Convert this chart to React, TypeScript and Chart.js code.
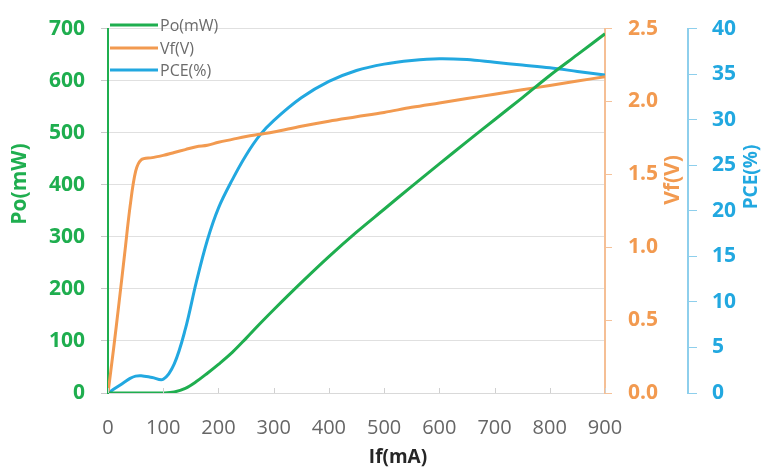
import React, { useEffect, useRef } from "react";
import { Chart, registerables } from "chart.js";

Chart.register(...registerables);

// ---- data ----
const current = [0, 10, 20, 30, 40, 50, 60, 80, 100, 120, 140, 160, 180, 200, 225, 250, 275, 300, 350, 400, 450, 500, 550, 600, 650, 700, 750, 800, 850, 900];
const poMW = [0, 0, 0, 0, 0, 0, 0, 0, 0, 2, 9, 22, 38, 55, 78, 105, 133, 160, 212, 262, 309, 353, 397, 440, 483, 525, 567, 610, 650, 690];
const vfV = [0, 0.3, 0.62, 0.95, 1.28, 1.52, 1.6, 1.615, 1.63, 1.65, 1.67, 1.69, 1.7, 1.72, 1.74, 1.76, 1.775, 1.79, 1.83, 1.865, 1.895, 1.925, 1.96, 1.99, 2.02, 2.05, 2.08, 2.11, 2.14, 2.17];
const pcePct = [0, 0.4, 0.8, 1.2, 1.6, 1.85, 1.9, 1.7, 1.5, 3.2, 7.0, 12.2, 16.8, 20.3, 23.4, 26.1, 28.3, 29.9, 32.4, 34.2, 35.4, 36.1, 36.5, 36.7, 36.6, 36.3, 36.0, 35.7, 35.3, 34.9];

const seriesNames = ["Po(mW)", "Vf(V)", "PCE(%)"];
const xTitle = "If(mA)";
const xTickValues = [0, 100, 200, 300, 400, 500, 600, 700, 800, 900];

const GREEN = "#1fae4f";
const ORANGE = "#f29a50";
const BLUE = "#22a8e0";
const FONT = "'Open Sans', 'Noto Sans', sans-serif";

const pts = (ys: number[]) => current.map((x, i) => ({ x, y: ys[i] }));

const decorPlugin = {
  id: "decor",
  afterDraw(chart: any) {
    const ctx = chart.ctx as CanvasRenderingContext2D;
    const xs = chart.scales.x;
    const area = chart.chartArea;
    ctx.save();
    // inner ticks on x axis
    ctx.strokeStyle = "#d0d0d0";
    ctx.lineWidth = 1;
    xTickValues.forEach((v) => {
      const px = Math.round(xs.getPixelForValue(v)) + 0.5;
      ctx.beginPath();
      ctx.moveTo(px, area.bottom);
      ctx.lineTo(px, area.bottom - 5);
      ctx.stroke();
    });
    // legend
    const colors = [GREEN, ORANGE, BLUE];
    const legendY = [25, 48, 70];
    ctx.font = `16px ${FONT}`;
    ctx.textBaseline = "middle";
    ctx.textAlign = "left";
    seriesNames.forEach((name, i) => {
      ctx.strokeStyle = colors[i];
      ctx.lineWidth = 3;
      ctx.beginPath();
      ctx.moveTo(area.left + 2, legendY[i]);
      ctx.lineTo(area.left + 50, legendY[i]);
      ctx.stroke();
      ctx.fillStyle = "#6b6b6b";
      ctx.fillText(name, area.left + 52, legendY[i] + 1);
    });
    // axis titles
    const rot = (text: string, x: number, y: number, color: string, size: number) => {
      ctx.save();
      ctx.translate(x, y);
      ctx.rotate(-Math.PI / 2);
      ctx.font = `bold ${size}px ${FONT}`;
      ctx.fillStyle = color;
      ctx.textAlign = "center";
      ctx.textBaseline = "middle";
      ctx.fillText(text, 0, 0);
      ctx.restore();
    };
    rot(seriesNames[0], 20, 184, GREEN, 21);
    rot(seriesNames[1], 673, 180, ORANGE, 21);
    rot(seriesNames[2], 752, 177, BLUE, 19);
    ctx.font = `bold 19px ${FONT}`;
    ctx.fillStyle = "#262626";
    ctx.textAlign = "center";
    ctx.textBaseline = "middle";
    ctx.fillText(xTitle, 398, 458);
    ctx.restore();
  },
};

export default function App() {
  const ref = useRef<HTMLCanvasElement | null>(null);
  useEffect(() => {
    if (!ref.current) return;
    const common = { borderWidth: 3, pointRadius: 0, tension: 0.35 };
    const chart = new Chart(ref.current, {
      type: "line",
      data: {
        datasets: [
          { label: seriesNames[0], data: pts(poMW), borderColor: GREEN, backgroundColor: GREEN, yAxisID: "y", ...common },
          { label: seriesNames[1], data: pts(vfV), borderColor: ORANGE, backgroundColor: ORANGE, yAxisID: "y1", ...common },
          { label: seriesNames[2], data: pts(pcePct), borderColor: BLUE, backgroundColor: BLUE, yAxisID: "y2", ...common },
        ],
      },
      options: {
        animation: false,
        responsive: false,
        layout: { padding: { top: 18, left: 0, right: 0, bottom: 0 } },
        plugins: { legend: { display: false }, tooltip: { enabled: false } },
        scales: {
          x: {
            type: "linear",
            min: 0,
            max: 900,
            afterFit: (s: any) => { s.height = 80; },
            ticks: { stepSize: 100, color: "#666666", font: { family: FONT, size: 20 }, padding: 23, maxRotation: 0 },
            grid: { drawOnChartArea: false, drawTicks: false },
            border: { color: "#d9d9d9", width: 1 },
          },
          y: {
            position: "left",
            min: 0,
            max: 700,
            afterFit: (s: any) => { s.width = 108; },
            ticks: { stepSize: 100, color: GREEN, font: { family: FONT, size: 21, weight: "bold" }, padding: 16 },
            grid: { color: "#e0e0e0", tickLength: 7, tickColor: "#c8c8c8" },
            border: { color: GREEN, width: 2 },
          },
          y1: {
            position: "right",
            min: 0,
            max: 2.5,
            weight: 0,
            afterFit: (s: any) => { s.width = 83; },
            ticks: { stepSize: 0.5, color: ORANGE, font: { family: FONT, size: 21, weight: "bold" }, padding: 16, callback: (v: any) => Number(v).toFixed(1) },
            grid: { drawOnChartArea: false, tickLength: 7, tickColor: "#f5c29a" },
            border: { color: "#f5bf95", width: 2 },
          },
          y2: {
            position: "right",
            min: 0,
            max: 40,
            weight: 1,
            afterFit: (s: any) => { s.width = 74; },
            ticks: { stepSize: 5, color: BLUE, font: { family: FONT, size: 21, weight: "bold" }, padding: 15 },
            grid: { drawOnChartArea: false, tickLength: 9, tickColor: "#8ecfec" },
            border: { color: "#8ecfec", width: 2 },
          },
        },
      } as any,
      plugins: [decorPlugin],
    });
    return () => chart.destroy();
  }, []);
  return (
    <div style={{ position: "absolute", left: 0, top: 0, width: 762, height: 473, background: "#ffffff" }}>
      <canvas ref={ref} width={762} height={473} style={{ display: "block" }} />
    </div>
  );
}
